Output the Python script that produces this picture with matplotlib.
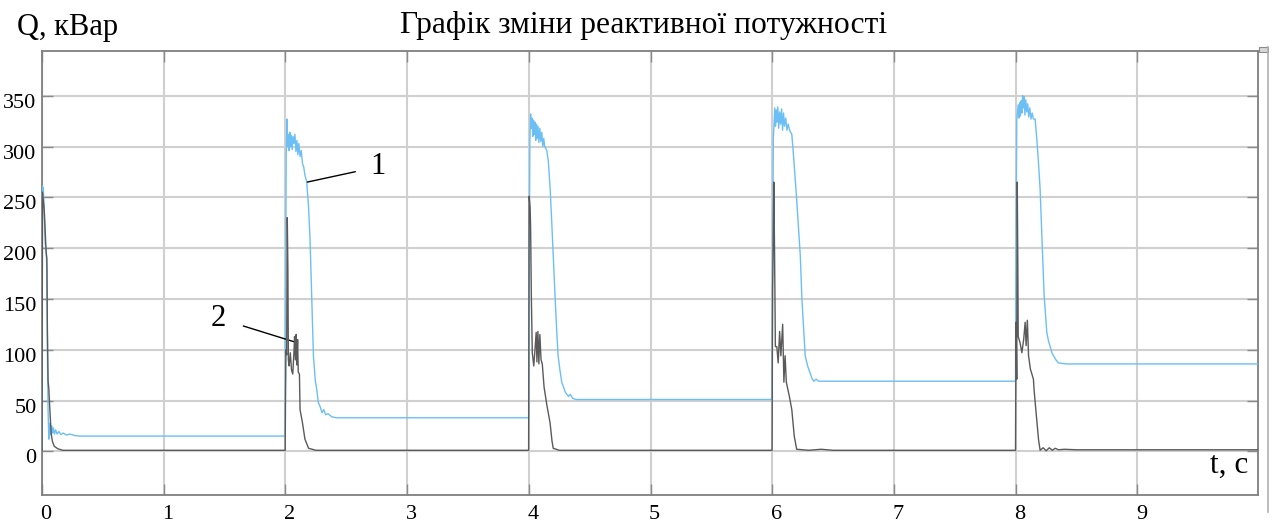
import numpy as np
import matplotlib
matplotlib.use("Agg")
import matplotlib.pyplot as plt
from matplotlib.lines import Line2D
from matplotlib.patches import Rectangle
import matplotlib.transforms as mtransforms

# ---- curve 1: total reactive power (light blue) ----
blue_t0 = [0.000, 0.004, 0.010, 0.018, 0.026, 0.034, 0.040, 0.045, 0.050, 0.056, 0.062, 0.068,
           0.074, 0.080, 0.087, 0.094, 0.102, 0.112, 0.124, 0.138, 0.155, 0.175, 0.200, 0.230,
           0.270, 0.310, 1.998]
blue_q0 = [5, 261, 259, 240, 205, 196, 180, 90, 40, 12, 22, 28,
           16, 25, 18, 23, 17, 21, 17, 19.5, 16.5, 18, 16, 17,
           15.5, 15, 15]

blue_t2 = [2.001, 2.006, 2.012, 2.018, 2.024, 2.030, 2.036, 2.042, 2.048, 2.055, 2.062, 2.070,
           2.078, 2.086, 2.094, 2.102, 2.110, 2.120, 2.130, 2.140, 2.150, 2.160, 2.175, 2.190,
           2.202, 2.216, 2.230, 2.245, 2.257, 2.270, 2.285, 2.300, 2.315, 2.330, 2.350, 2.380,
           2.420, 3.998]
blue_q2 = [150, 290, 327, 300, 312, 296, 314, 300, 311, 297, 310, 303,
           312, 295, 306, 292, 303, 290, 296, 283, 280, 272, 265, 240,
           209, 153, 94, 70, 61, 48, 44, 38, 41, 36, 37, 34,
           33, 33]

blue_t4 = [4.002, 4.008, 4.014, 4.020, 4.026, 4.032, 4.038, 4.044, 4.050, 4.056, 4.062, 4.068,
           4.075, 4.082, 4.090, 4.098, 4.106, 4.114, 4.122, 4.130, 4.147, 4.160, 4.175, 4.188,
           4.200, 4.216, 4.228, 4.240, 4.255, 4.270, 4.285, 4.300, 4.312, 4.325, 4.340, 4.360,
           4.390, 5.998]
blue_q4 = [170, 305, 332, 318, 328, 310, 326, 312, 324, 306, 322, 308,
           320, 304, 318, 305, 314, 300, 308, 300, 296, 285, 258, 225,
           192, 150, 120, 94, 80, 68, 63, 58, 56, 54, 56, 52,
           51, 51]

blue_t6 = [6.002, 6.008, 6.014, 6.020, 6.026, 6.032, 6.038, 6.045, 6.052, 6.060, 6.068, 6.076,
           6.084, 6.092, 6.100, 6.110, 6.120, 6.130, 6.145, 6.160, 6.174, 6.187, 6.200, 6.215,
           6.230, 6.243, 6.257, 6.270, 6.290, 6.310, 6.325, 6.340, 6.360, 6.380, 6.420, 7.998]
blue_q6 = [180, 307, 322, 338, 320, 336, 324, 339, 318, 334, 322, 337,
           316, 333, 320, 328, 316, 322, 315, 312, 291, 270, 248, 220,
           192, 150, 120, 94, 84, 77, 72, 69, 71, 69, 69, 69]

blue_t8 = [8.002, 8.008, 8.014, 8.020, 8.026, 8.032, 8.038, 8.044, 8.050, 8.056, 8.062, 8.068,
           8.075, 8.082, 8.090, 8.098, 8.106, 8.115, 8.125, 8.135, 8.145, 8.159, 8.173, 8.186,
           8.200, 8.215, 8.233, 8.255, 8.270, 8.283, 8.297, 8.310, 8.330, 8.350, 8.380, 8.420,
           9.990]
blue_q8 = [200, 326, 334, 341, 328, 343, 330, 345, 333, 350, 338, 349,
           331, 346, 334, 342, 329, 338, 327, 333, 327, 327, 307, 285,
           258, 209, 153, 117, 108, 103, 97, 94, 90, 87, 86.5, 86,
           86]

# ---- curve 2: compensated reactive power (dark grey) ----
grey_t0 = [0.000, 0.004, 0.018, 0.034, 0.040, 0.044, 0.050, 0.056, 0.065, 0.075, 0.085, 0.100,
           0.130, 0.170, 1.998]
grey_q0 = [1, 255, 238, 196, 190, 123, 69, 62, 40, 18, 10, 5,
           2.5, 1, 1]

grey_t2 = [2.000, 2.004, 2.010, 2.015, 2.020, 2.024, 2.030, 2.040, 2.050, 2.060, 2.070, 2.075,
           2.082, 2.088, 2.094, 2.100, 2.105, 2.115, 2.120, 2.140, 2.160, 2.190, 2.250, 3.998]
grey_q2 = [45, 100, 95, 230, 180, 90, 84, 97, 80, 76, 98, 113,
           90, 115, 85, 110, 78, 76, 41, 28, 12, 3, 1, 1]

grey_t4 = [4.002, 4.010, 4.014, 4.020, 4.028, 4.040, 4.050, 4.060, 4.066, 4.074, 4.082, 4.090,
           4.100, 4.110, 4.125, 4.147, 4.174, 4.190, 4.200, 4.250, 5.998]
grey_q4 = [251, 240, 222, 154, 97, 84, 100, 117, 88, 118, 86, 115,
           90, 86, 63, 46, 28, 10, 3, 1, 1]

grey_t6 = [6.002, 6.006, 6.012, 6.018, 6.025, 6.037, 6.048, 6.060, 6.070, 6.085, 6.095, 6.105,
           6.115, 6.140, 6.160, 6.180, 6.200, 6.300, 6.400, 6.500, 7.998]
grey_q6 = [160, 192, 265, 200, 103, 103, 87, 118, 94, 125, 68, 94,
           68, 54, 41, 15, 2, 1, 2, 1, 1]

grey_t8 = [8.002, 8.008, 8.012, 8.016, 8.020, 8.035, 8.050, 8.065, 8.077, 8.085, 8.095, 8.105,
           8.120, 8.145, 8.150, 8.167, 8.187, 8.200, 8.225, 8.250, 8.275, 8.300, 8.325, 8.350,
           8.400, 8.500, 9.990]
grey_q8 = [127, 71, 265, 200, 113, 107, 97, 110, 127, 104, 129, 94,
           81, 71, 61, 38, 11.5, 1, 3.5, 0.5, 3.5, 1, 3, 1.5,
           2, 1.5, 1.5]

x_ticks = [0, 1, 2, 3, 4, 5, 6, 7, 8, 9]
y_ticks = [0, 50, 100, 150, 200, 250, 300, 350]

title_text = "Графік зміни реактивної потужності"
y_label = "Q, кВар"
x_label = "t, c"

t1 = np.concatenate([blue_t0, blue_t2, blue_t4, blue_t6, blue_t8])
q1 = np.concatenate([blue_q0, blue_q2, blue_q4, blue_q6, blue_q8])
t2 = np.concatenate([grey_t0, grey_t2, grey_t4, grey_t6, grey_t8])
q2 = np.concatenate([grey_q0, grey_q2, grey_q4, grey_q6, grey_q8])

SERIF = ["Liberation Serif", "DejaVu Serif"]
plt.rcParams["font.family"] = SERIF

W, H = 1276, 527
fig = plt.figure(figsize=(W / 100, H / 100), dpi=100)
ax = fig.add_axes([42 / W, 1 - 495 / H, (1258 - 42) / W, (495 - 51) / H])

ax.set_xlim(0, 9.99)
ax.set_ylim(-43, 394)

ax.plot(t1, q1, color="#6cbff5", lw=1.0, zorder=3)
ax.plot(t2, q2, color="#5a5a5a", lw=1.0, zorder=4)

ax.set_xticks(x_ticks)
ax.set_yticks(y_ticks)
ax.grid(True, color="#d0d0d0", lw=1.5, zorder=0)
ax.tick_params(direction="in", length=8, width=1.0, color="#8a8a8a",
               top=True, right=True, labelsize=16, colors="#8a8a8a",
               labelcolor="black")
ax.tick_params(axis="x", pad=7)
ax.tick_params(axis="y", pad=4)
for lab in ax.get_yticklabels():
    lab.set_transform(lab.get_transform() +
                      mtransforms.ScaledTranslation(0, -5 / 100, fig.dpi_scale_trans))
for lab in ax.get_xticklabels():
    lab.set_transform(lab.get_transform() +
                      mtransforms.ScaledTranslation(4 / 100, 0, fig.dpi_scale_trans))

for sp in ax.spines.values():
    sp.set_color("#7f7f7f")
    sp.set_linewidth(1.3)

# curve annotations
ax.annotate("1", xy=(2.18, 265), xytext=(2.76, 280), fontsize=22,
            ha="center", va="center",
            arrowprops=dict(arrowstyle="-", color="black", lw=1.0,
                            shrinkA=9, shrinkB=0))
ax.annotate("2", xy=(2.093, 107), xytext=(1.449, 131), fontsize=22,
            ha="center", va="center",
            arrowprops=dict(arrowstyle="-", color="black", lw=1.0,
                            shrinkA=11, shrinkB=0))

ax.text(0.992, 0.035, x_label, transform=ax.transAxes, ha="right", va="bottom",
        fontsize=22.5)
fig.text(17 / W, 1 - 27 / H, y_label, ha="left", va="center", fontsize=22)
fig.text(644 / W, 1 - 25 / H, title_text, ha="center", va="center", fontsize=22.7)

# side scroll strip
fig.add_artist(Line2D([1267.5 / W, 1267.5 / W], [1 - 47 / H, 1 - 512 / H],
                      transform=fig.transFigure, color="#b0b0b0", lw=1.2))
fig.add_artist(Rectangle((1259 / W, 1 - 52 / H), 9 / W, 5 / H,
                         transform=fig.transFigure, facecolor="#d8d8d8",
                         edgecolor="#8a8a8a", lw=0.8))

fig.savefig("out.png", dpi=100)
